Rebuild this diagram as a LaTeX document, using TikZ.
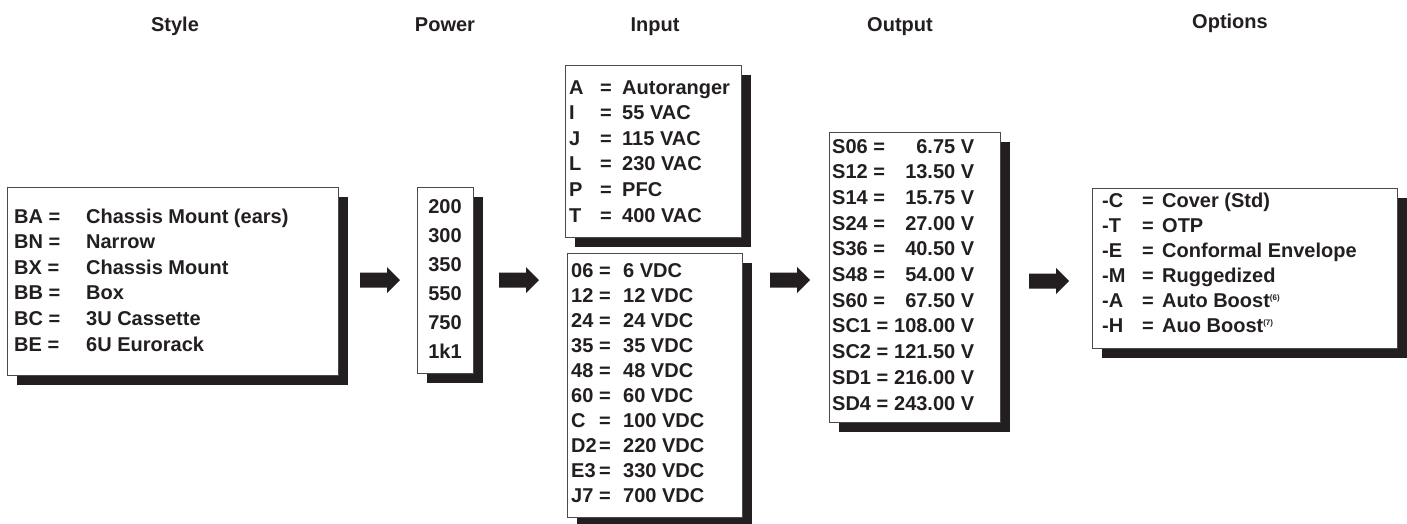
\documentclass[tikz,border=0pt]{standalone}
\usepackage{fontspec}
\setmainfont{Liberation Sans}
\usetikzlibrary{shadows}
\definecolor{ink}{HTML}{231F20}
\definecolor{edge}{HTML}{4A4A4A}
\newcommand{\supnote}[1]{\raisebox{7pt}{\fontsize{8}{8}\selectfont(#1)}}
\newcommand{\orow}[2]{\makebox[142pt][l]{#1 =\hfill\ #2}}
\begin{document}
\begin{tikzpicture}[x=1pt,y=-1pt,
  font=\bfseries\fontsize{20}{25.6}\selectfont, text=ink,
  box/.style={draw=edge, line width=1.1pt, fill=white, rectangle, inner sep=0pt,
    anchor=north west,
    drop shadow={shadow xshift=9pt, shadow yshift=-9pt, fill=ink, opacity=1}},
  txt/.style={anchor=base west, inner sep=0pt, align=left},
  head/.style={anchor=base, inner sep=0pt},
  blockarrow/.pic={\fill[ink] (-20,-7.5) -- (7,-7.5) -- (7,-13) -- (20,0) -- (7,13) -- (7,7.5) -- (-20,7.5) -- cycle;}
]
\useasboundingbox (0,0) rectangle (1407,523);

% headers
\node[head] (hstyle)  at (175,31) {Style};
\node[head] (hpower)  at (445,31) {Power};
\node[head] (hinput)  at (655,31) {Input};
\node[head] (houtput) at (900,31) {Output};
\node[head] (hopt)    at (1230,28) {Options};

% boxes
\node[box, minimum width=331pt, minimum height=188pt] (style) at (7,187) {};
\node[box, minimum width=56pt, minimum height=186pt] (power) at (417,187) {};
\node[box, minimum width=176pt, minimum height=172pt] (inup) at (565,65) {};
\node[box, minimum width=175pt, minimum height=264pt] (inlow) at (567,253) {};
\node[box, minimum width=171pt, minimum height=290pt] (output) at (829,132) {};
\node[box, minimum width=305pt, minimum height=160pt] (opts) at (1092,188) {};

% arrows
\pic at (380,280) {blockarrow};
\pic at (519,280) {blockarrow};
\pic at (790,280) {blockarrow};
\pic at (1049,281) {blockarrow};

% texts
\node[txt] (tstyle) at (14,223) {\begin{tabular}[t]{@{}p{72pt}@{}l@{}}
BA =&Chassis Mount (ears)\\
BN =&Narrow\\
BX =&Chassis Mount\\
BB =&Box\\
BC =&3U Cassette\\
BE =&6U Eurorack
\end{tabular}};

\node[anchor=base, inner sep=0pt, font=\bfseries\fontsize{20}{29}\selectfont] (tpower) at (445,213) {\begin{tabular}[t]{@{}c@{}}
200\\ 300\\ 350\\ 550\\ 750\\ 1k1
\end{tabular}};

\node[txt] (tinup) at (569,94) {\begin{tabular}[t]{@{}p{31pt}@{}p{22pt}@{}l@{}}
A&=&Autoranger\\
I&=&55 VAC\\
J&=&115 VAC\\
L&=&230 VAC\\
P&=&PFC\\
T&=&400 VAC
\end{tabular}};

\node[txt, font=\bfseries\fontsize{20}{25.1}\selectfont] (tinlow) at (571,277) {\begin{tabular}[t]{@{}p{28pt}@{}p{24pt}@{}l@{}}
06&=&6 VDC\\
12&=&12 VDC\\
24&=&24 VDC\\
35&=&35 VDC\\
48&=&48 VDC\\
60&=&60 VDC\\
C&=&100 VDC\\
D2&=&220 VDC\\
E3&=&330 VDC\\
J7&=&700 VDC
\end{tabular}};

\node[txt, font=\bfseries\fontsize{20}{25.7}\selectfont] (toutput) at (832,153) {\begin{tabular}[t]{@{}l@{}}
\orow{S06}{6.75 V}\\
\orow{S12}{13.50 V}\\
\orow{S14}{15.75 V}\\
\orow{S24}{27.00 V}\\
\orow{S36}{40.50 V}\\
\orow{S48}{54.00 V}\\
\orow{S60}{67.50 V}\\
\orow{SC1}{108.00 V}\\
\orow{SC2}{121.50 V}\\
\orow{SD1}{216.00 V}\\
\orow{SD4}{243.00 V}
\end{tabular}};

\node[txt, font=\bfseries\fontsize{20}{25}\selectfont] (topts) at (1102,207) {\begin{tabular}[t]{@{}p{40pt}@{}p{20pt}@{}l@{}}
-C&=&Cover (Std)\\
-T&=&OTP\\
-E&=&Conformal Envelope\\
-M&=&Ruggedized\\
-A&=&Auto Boost\supnote{6}\\
-H&=&Auo Boost\supnote{7}
\end{tabular}};
\end{tikzpicture}
\end{document}
